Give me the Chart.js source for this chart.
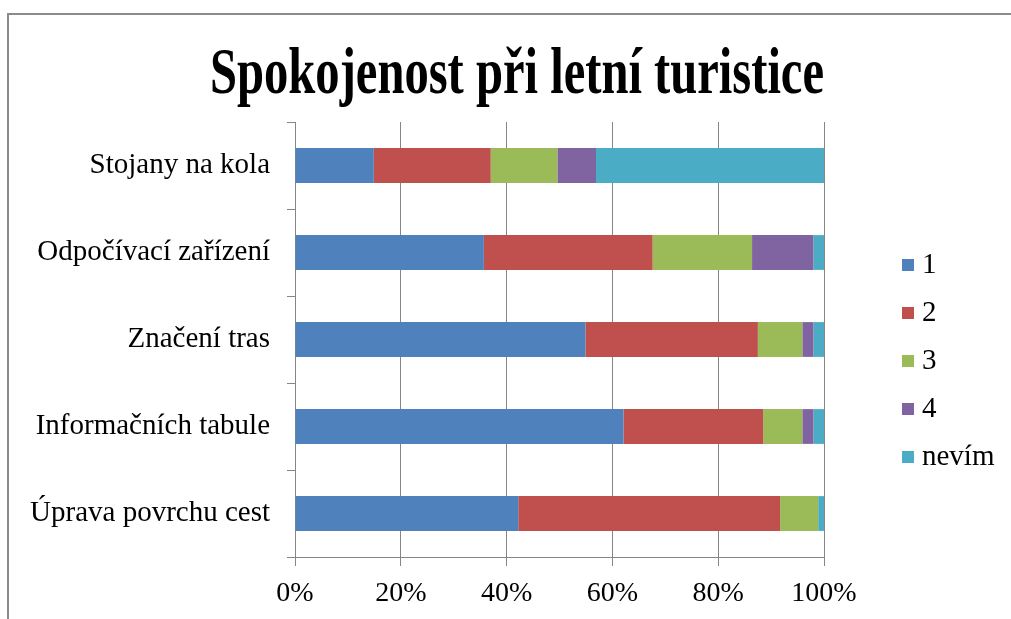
<!DOCTYPE html>
<html>
<head>
<meta charset="utf-8">
<script src="https://cdn.jsdelivr.net/npm/chart.js@4/dist/chart.umd.min.js"></script>
<style>
  html, body { margin: 0; padding: 0; background: #fff; }
  canvas { display: block; }
</style>
</head>
<body>
<canvas id="c" width="1011" height="619"></canvas>
<script>
const titleText = 'Spokojenost při letní turistice';
const categories = ['Stojany na kola', 'Odpočívací zařízení', 'Značení tras', 'Informačních tabule', 'Úprava povrchu cest'];
const seriesNames = ['1', '2', '3', '4', 'nevím'];
const s1 = [14.9, 35.7, 54.9, 62.1, 42.2];
const s2 = [22.1, 31.9, 32.6, 26.4, 49.5];
const s3 = [12.6, 18.8, 8.4, 7.4, 7.2];
const s4 = [7.3, 11.6, 2.1, 2.1, 0];
const sNevim = [43.1, 2.0, 2.0, 2.0, 1.1];
const xTicks = [0, 20, 40, 60, 80, 100];
const colors = ['#4F81BD', '#C0504D', '#9BBB59', '#8064A2', '#4BACC6'];

const FONT = '"Liberation Serif", "Times New Roman", serif';
const GRID = '#868686';

const frame = {
  id: 'frame',
  beforeDraw(chart) {
    const ctx = chart.ctx;
    ctx.save();
    ctx.fillStyle = '#fff';
    ctx.fillRect(0, 0, chart.width, chart.height);
    ctx.strokeStyle = '#8a8a8a';
    ctx.lineWidth = 2;
    ctx.strokeRect(8, 14, chart.width + 10, chart.height + 10);
    ctx.restore();
  }
};

const customTitle = {
  id: 'customTitle',
  afterDraw(chart) {
    const ctx = chart.ctx;
    ctx.save();
    ctx.font = 'bold 66px ' + FONT;
    ctx.fillStyle = '#000';
    ctx.textAlign = 'center';
    ctx.textBaseline = 'alphabetic';
    const cx = 517, base = 93;
    const w = ctx.measureText(titleText).width;
    const sx = 614 / w;
    ctx.translate(cx, base);
    ctx.scale(sx, 1);
    ctx.fillText(titleText, 0, 0);
    ctx.restore();
  }
};

const customLegend = {
  id: 'customLegend',
  afterDraw(chart) {
    const ctx = chart.ctx;
    const ds = chart.data.datasets;
    const x0 = 902, y0 = 265, step = 48, box = 12;
    ctx.save();
    ctx.font = '29px ' + FONT;
    ctx.textBaseline = 'middle';
    ctx.textAlign = 'left';
    ds.forEach((d, i) => {
      const y = y0 + i * step;
      ctx.fillStyle = d.backgroundColor;
      ctx.fillRect(x0, y - box / 2, box, box);
      ctx.fillStyle = '#000';
      ctx.fillText(d.label, x0 + 20, y);
    });
    ctx.restore();
  }
};

const allSeries = [s1, s2, s3, s4, sNevim];

new Chart(document.getElementById('c'), {
  type: 'bar',
  data: {
    labels: categories,
    datasets: allSeries.map((arr, i) => ({
      label: seriesNames[i],
      data: arr,
      backgroundColor: colors[i],
      borderWidth: 0,
      categoryPercentage: 1,
      barPercentage: 0.4
    }))
  },
  options: {
    indexAxis: 'y',
    responsive: false,
    animation: false,
    layout: { padding: { top: 122, right: 187, bottom: 0, left: 0 } },
    plugins: {
      legend: { display: false },
      tooltip: { enabled: false },
      title: { display: false }
    },
    scales: {
      x: {
        stacked: true,
        min: 0,
        max: 100,
        afterBuildTicks(scale) { scale.ticks = xTicks.map(v => ({ value: v })); },
        afterFit(scale) { scale.height = 62; },
        ticks: {
          color: '#000',
          font: { family: FONT, size: 28 },
          padding: 11,
          callback: v => v + '%'
        },
        grid: { color: GRID, lineWidth: 1, tickLength: 9, drawTicks: true },
        border: { display: true, color: GRID, width: 1 }
      },
      y: {
        stacked: true,
        afterFit(scale) { scale.width = 295; },
        ticks: {
          color: '#000',
          font: { family: FONT, size: 29 },
          padding: 17
        },
        grid: { display: true, drawOnChartArea: false, drawTicks: true, tickLength: 8, color: GRID, offset: true },
        border: { display: true, color: GRID, width: 1 }
      }
    }
  },
  plugins: [frame, customTitle, customLegend]
});
</script>
</body>
</html>
